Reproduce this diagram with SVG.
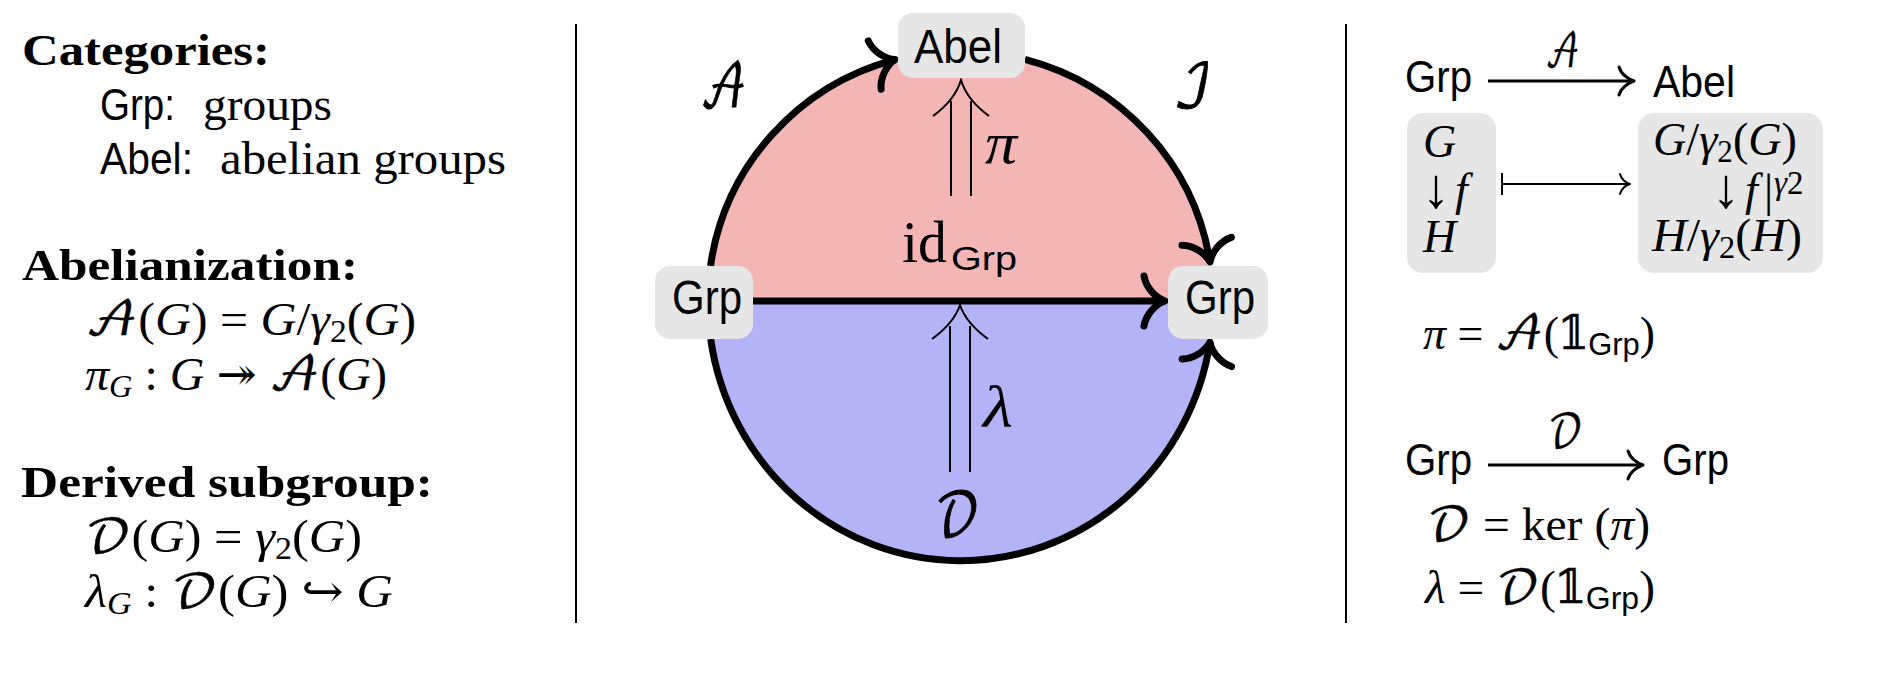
<svg xmlns="http://www.w3.org/2000/svg" width="1898" height="678" viewBox="0 0 1898 678">
<style>
text { font-family: 'Liberation Serif', 'DejaVu Serif', serif; fill: #000; }
.lp { font-size: 46px; }
.hd { font-size: 45px; font-weight: bold; }
.sans { font-family: 'Liberation Sans', 'DejaVu Sans', sans-serif; }
.ls { font-size: 44px; }
.i { font-style: italic; }
.cal { font-family: 'DejaVu Math TeX Gyre', 'STIX Two Math', 'DejaVu Serif', 'DejaVu Sans', serif; font-style: normal; stroke: #000; stroke-width: 0.4; }
.calb { stroke-width: 0.9; }
.node { fill: #e6e6e6; }
.thick { fill: none; stroke: #000; stroke-width: 7; }
.thin { fill: none; stroke: #000; stroke-width: 2; }
.sep { stroke: #000; stroke-width: 2; }
.nodetxt { font-family: 'Liberation Sans', 'DejaVu Sans', sans-serif; font-size: 48px; }
.lab { font-size: 60px; }
.rp { font-size: 46px; }
.rs { font-size: 44px; }
.arr { font-size: 56px; }
</style>
<defs>
<marker id="to" markerUnits="userSpaceOnUse" markerWidth="70" markerHeight="70" viewBox="-35 -35 70 70" refX="0" refY="0" orient="auto" overflow="visible">
<path d="M-21,-25 C-19,-13 -9,-3 0,0 C-9,3 -19,13 -21,25" fill="none" stroke="#000" stroke-width="7" stroke-linecap="round" stroke-linejoin="round"/>
</marker>
<marker id="tos" markerUnits="userSpaceOnUse" markerWidth="40" markerHeight="40" viewBox="-20 -20 40 40" refX="0" refY="0" orient="auto" overflow="visible">
<path d="M-15,-14 C-13,-7 -6,-2 0,0 C-6,2 -13,7 -15,14" fill="none" stroke="#000" stroke-width="3" stroke-linecap="round" stroke-linejoin="round"/>
</marker>
<marker id="tom" markerUnits="userSpaceOnUse" markerWidth="30" markerHeight="30" viewBox="-15 -15 30 30" refX="0" refY="0" orient="auto" overflow="visible">
<path d="M-10,-10 C-9,-5 -4,-1 0,0 C-4,1 -9,5 -10,10" fill="none" stroke="#000" stroke-width="2" stroke-linecap="round" stroke-linejoin="round"/>
</marker>
</defs>

<!-- separators -->
<line class="sep" x1="576" y1="24" x2="576" y2="623"/>
<line class="sep" x1="1346" y1="24" x2="1346" y2="623"/>

<!-- left panel -->
<g id="left-panel">
<text x="22" y="65" class="hd" textLength="248" lengthAdjust="spacingAndGlyphs">Categories:</text>
<text x="100" y="120" class="ls sans" textLength="75" lengthAdjust="spacingAndGlyphs">Grp:</text>
<text x="203" y="120" class="lp" textLength="129" lengthAdjust="spacingAndGlyphs">groups</text>
<text x="100" y="174" class="ls sans" textLength="93" lengthAdjust="spacingAndGlyphs">Abel:</text>
<text x="220" y="174" class="lp" textLength="286" lengthAdjust="spacingAndGlyphs">abelian groups</text>
<text x="22" y="280" class="hd" textLength="336" lengthAdjust="spacingAndGlyphs">Abelianization:</text>
<text x="85" y="335" class="lp" textLength="331" lengthAdjust="spacingAndGlyphs"><tspan class="cal">𝒜</tspan>(<tspan class="i">G</tspan>) = <tspan class="i">G</tspan>/<tspan class="i">γ</tspan><tspan font-size="31" dy="7">2</tspan><tspan dy="-7">(</tspan><tspan class="i">G</tspan>)</text>
<text x="85" y="390" class="lp" textLength="302" lengthAdjust="spacingAndGlyphs"><tspan class="i">π</tspan><tspan class="i" font-size="31" dy="7">G</tspan><tspan dy="-7"> : </tspan><tspan class="i">G</tspan> ↠ <tspan class="cal">𝒜</tspan>(<tspan class="i">G</tspan>)</text>
<text x="21" y="497" class="hd" textLength="412" lengthAdjust="spacingAndGlyphs">Derived subgroup:</text>
<text x="85" y="552" class="lp" textLength="277" lengthAdjust="spacingAndGlyphs"><tspan class="cal">𝒟</tspan>(<tspan class="i">G</tspan>) = <tspan class="i">γ</tspan><tspan font-size="31" dy="7">2</tspan><tspan dy="-7">(</tspan><tspan class="i">G</tspan>)</text>
<text x="85" y="607" class="lp" textLength="308" lengthAdjust="spacingAndGlyphs"><tspan class="i">λ</tspan><tspan class="i" font-size="31" dy="7">G</tspan><tspan dy="-7"> : </tspan><tspan class="cal">𝒟</tspan>(<tspan class="i">G</tspan>) ↪ <tspan class="i">G</tspan></text>
</g>

<!-- circle regions -->
<g id="regions">
<path d="M708,301 A252.5,250 0 0 1 1213,301 Z" fill="#f4b5b5"/>
<path d="M708,301 A252.5,259 0 0 0 1213,301 Z" fill="#b3b3f7"/>
</g>

<!-- connectors -->
<g id="connectors">
<path class="thick" d="M710.5,266 A252.5,250 0 0 1 895,59.6" marker-end="url(#to)"/>
<path class="thick" d="M1025,59.3 A252.5,250 0 0 1 1210,262" marker-end="url(#to)"/>
<path class="thick" d="M753,301 L1165,301" marker-end="url(#to)"/>
<path class="thick" d="M710.7,339 A252.5,259 0 0 0 1210,342" marker-end="url(#to)"/>
<!-- pi double arrow -->
<path class="thin" d="M951,196 L951,101 M971,196 L971,101"/>
<path class="thin" d="M933,116 Q955,100 961,80 Q967,100 989,116"/>
<!-- lambda double arrow -->
<path class="thin" d="M950,472 L950,326 M970,472 L970,326"/>
<path class="thin" d="M932,339 Q954,323 960,305 Q966,323 988,339"/>
</g>

<!-- nodes -->
<g id="node-abel">
<rect class="node" x="898" y="13" width="127" height="65" rx="15"/>
<text class="nodetxt" x="914" y="63" textLength="88" lengthAdjust="spacingAndGlyphs">Abel</text>
</g>
<g id="node-grp-left">
<rect class="node" x="655" y="266" width="98" height="73" rx="15"/>
<text class="nodetxt" x="672" y="314" textLength="70" lengthAdjust="spacingAndGlyphs">Grp</text>
</g>
<g id="node-grp-right">
<rect class="node" x="1168" y="266" width="100" height="73" rx="15"/>
<text class="nodetxt" x="1185" y="314" textLength="70" lengthAdjust="spacingAndGlyphs">Grp</text>
</g>

<!-- circle labels -->
<g id="circle-labels">
<text class="lab cal calb" x="700" y="107" textLength="47" lengthAdjust="spacingAndGlyphs">𝒜</text>
<text class="lab cal calb" x="1173" y="107" textLength="39" lengthAdjust="spacingAndGlyphs">ℐ</text>
<text class="lab i" x="985" y="163" textLength="32" lengthAdjust="spacingAndGlyphs">π</text>
<text class="lab" x="902" y="262" textLength="45" lengthAdjust="spacingAndGlyphs">id</text>
<text class="sans" x="951" y="270" font-size="33" textLength="66" lengthAdjust="spacingAndGlyphs">Grp</text>
<text class="lab i" x="983" y="427" textLength="30" lengthAdjust="spacingAndGlyphs">λ</text>
<text class="lab cal calb" x="935" y="536" textLength="45" lengthAdjust="spacingAndGlyphs">𝒟</text>
</g>

<!-- right panel -->
<g id="right-panel">
<text class="rs sans" x="1405" y="92" textLength="67" lengthAdjust="spacingAndGlyphs">Grp</text>
<line x1="1488" y1="81" x2="1634" y2="81" stroke="#000" stroke-width="3" marker-end="url(#tos)"/>
<text class="rp cal" x="1545" y="67" textLength="35" lengthAdjust="spacingAndGlyphs">𝒜</text>
<text class="rs sans" x="1653" y="97" textLength="82" lengthAdjust="spacingAndGlyphs">Abel</text>

<rect class="node" x="1407" y="113" width="89" height="160" rx="16"/>
<text class="rp i" x="1423" y="157">G</text>
<text class="arr" x="1422" y="207">↓</text>
<text class="rp i" x="1455" y="205">f</text>
<text class="rp i" x="1423" y="252">H</text>

<line x1="1502" y1="173" x2="1502" y2="195" stroke="#000" stroke-width="2"/>
<line x1="1502" y1="184" x2="1630" y2="184" stroke="#000" stroke-width="2" marker-end="url(#tom)"/>

<rect class="node" x="1638" y="113" width="185" height="160" rx="16"/>
<text class="rp" x="1653" y="155" textLength="144" lengthAdjust="spacingAndGlyphs"><tspan class="i">G</tspan>/<tspan class="i">γ</tspan><tspan font-size="31" dy="7">2</tspan><tspan dy="-7">(</tspan><tspan class="i">G</tspan>)</text>
<text class="arr" x="1712" y="207">↓</text>
<text class="rp i" x="1745" y="205">f</text>
<text class="rp" x="1764" y="206">|</text>
<text x="1774" y="194" font-size="33"><tspan class="i">γ</tspan>2</text>
<text class="rp" x="1652" y="251" textLength="150" lengthAdjust="spacingAndGlyphs"><tspan class="i">H</tspan>/<tspan class="i">γ</tspan><tspan font-size="31" dy="7">2</tspan><tspan dy="-7">(</tspan><tspan class="i">H</tspan>)</text>

<text class="rp" x="1423" y="349" textLength="232" lengthAdjust="spacingAndGlyphs"><tspan class="i">π</tspan> = <tspan class="cal">𝒜</tspan>(<tspan class="cal">𝟙</tspan><tspan class="sans" font-size="31" dy="6">Grp</tspan><tspan dy="-6">)</tspan></text>

<text class="rs sans" x="1405" y="475" textLength="67" lengthAdjust="spacingAndGlyphs">Grp</text>
<line x1="1488" y1="465" x2="1643" y2="465" stroke="#000" stroke-width="3" marker-end="url(#tos)"/>
<text class="rp cal" x="1548" y="447" textLength="35" lengthAdjust="spacingAndGlyphs">𝒟</text>
<text class="rs sans" x="1662" y="475" textLength="67" lengthAdjust="spacingAndGlyphs">Grp</text>

<text class="rp" x="1427" y="540" textLength="223" lengthAdjust="spacingAndGlyphs"><tspan class="cal">𝒟</tspan> = ker (<tspan class="i">π</tspan>)</text>
<text class="rp" x="1425" y="603" textLength="230" lengthAdjust="spacingAndGlyphs"><tspan class="i">λ</tspan> = <tspan class="cal">𝒟</tspan>(<tspan class="cal">𝟙</tspan><tspan class="sans" font-size="31" dy="6">Grp</tspan><tspan dy="-6">)</tspan></text>
</g>
</svg>
